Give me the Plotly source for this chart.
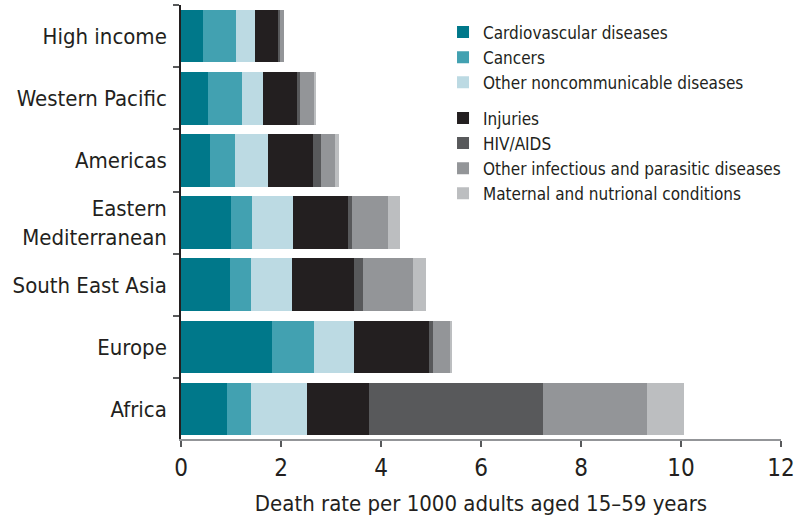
import plotly.graph_objects as go

regions = ["Africa", "Europe", "South East Asia", "Eastern<br>Mediterranean",
           "Americas", "Western Pacific", "High income"]

cardiovascular = [0.91, 1.81, 0.97, 0.99, 0.57, 0.53, 0.43]
cancers        = [0.48, 0.84, 0.42, 0.42, 0.50, 0.68, 0.66]
other_ncd      = [1.12, 0.80, 0.82, 0.82, 0.66, 0.42, 0.38]
injuries       = [1.24, 1.50, 1.24, 1.10, 0.90, 0.68, 0.46]
hiv_aids       = [3.48, 0.08, 0.18, 0.08, 0.16, 0.06, 0.04]
other_infect   = [2.08, 0.36, 1.00, 0.72, 0.28, 0.28, 0.08]
maternal       = [0.74, 0.02, 0.26, 0.24, 0.08, 0.04, 0.00]

series = [
    ("Cardiovascular diseases", cardiovascular, "#00788A", "ncd"),
    ("Cancers", cancers, "#42A1B1", "ncd"),
    ("Other noncommunicable diseases", other_ncd, "#BCDAE3", "ncd"),
    ("Injuries", injuries, "#231F20", "other"),
    ("HIV/AIDS", hiv_aids, "#58595B", "other"),
    ("Other infectious and parasitic diseases", other_infect, "#939598", "other"),
    ("Maternal and nutrional conditions", maternal, "#BCBEC0", "other"),
]

x_ticks = [0, 2, 4, 6, 8, 10, 12]

FONT = "DejaVu Sans Condensed, Liberation Sans Narrow, Arial Narrow, sans-serif"

fig = go.Figure()
for name, vals, color, grp in series:
    fig.add_trace(go.Bar(
        y=regions, x=vals, name=name, orientation="h",
        marker=dict(color=color, line=dict(width=0)),
        legendgroup=grp,
    ))

fig.update_layout(
    barmode="stack",
    bargap=0.153,
    width=799, height=519,
    margin=dict(l=181, r=18, t=5, b=80, autoexpand=False),
    paper_bgcolor="white", plot_bgcolor="white",
    font=dict(family=FONT, color="#231F20", size=22),
    showlegend=True,
    legend=dict(
        x=0.4367, y=0.978, xanchor="left", yanchor="top",
        traceorder="grouped", tracegroupgap=10.6,
        font=dict(size=17, color="#231F20"),
        bgcolor="rgba(0,0,0,0)",
        itemwidth=30,
    ),
    xaxis=dict(
        range=[0, 12], tickvals=x_ticks, ticktext=[str(v) for v in x_ticks],
        showgrid=False, zeroline=False, automargin=False,
        showline=True, linecolor="#939598", linewidth=2,
        ticks="outside", ticklen=6, tickcolor="#58595B", tickwidth=1.5,
        tickfont=dict(size=24),
        title=dict(text="Death rate per 1000 adults aged 15\u201359 years",
                   font=dict(size=22), standoff=15),
    ),
    yaxis=dict(
        type="category", categoryorder="array", categoryarray=regions,
        range=[-0.48, 6.5], automargin=False,
        showgrid=False, zeroline=False,
        showline=True, linecolor="#231F20", linewidth=1.5,
        ticks="outside", tickson="boundaries", ticklen=6,
        tickcolor="#58595B", tickwidth=1.5,
        tickfont=dict(size=22),
        ticklabelstandoff=8,
    ),
)

fig.write_html("out.html", config={"displayModeBar": False},
               post_script="document.body.style.margin='0';")
